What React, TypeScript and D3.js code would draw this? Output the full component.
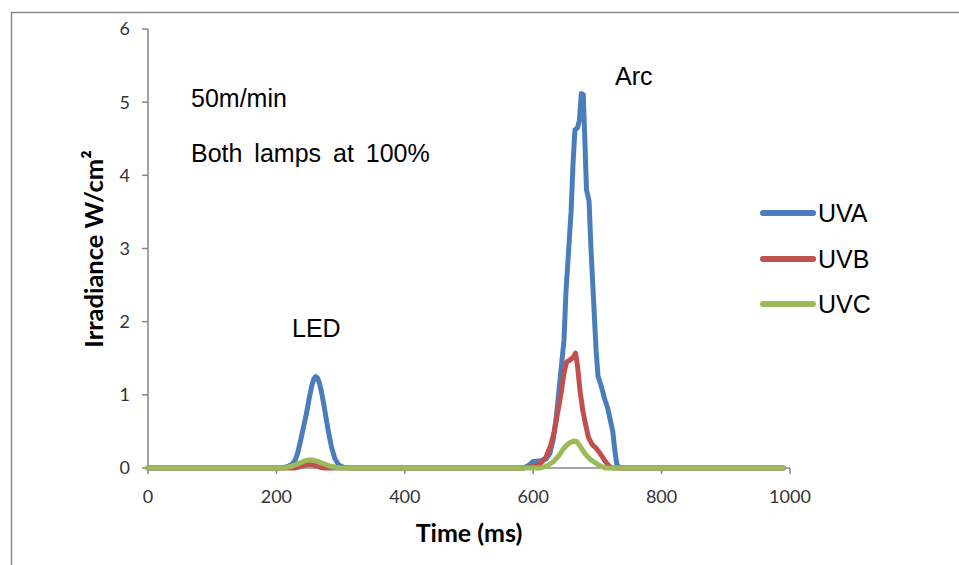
import React from "react";
import * as d3 from "d3";

const xTicks = [0, 200, 400, 600, 800, 1000];
const yTicks = [0, 1, 2, 3, 4, 5, 6];

const uvaData: [number, number][] = [
  [0, 0], [200, 0], [210, 0.005], [218, 0.02], [224, 0.05], [229, 0.1], [233, 0.2], [237, 0.35],
  [242, 0.55], [247, 0.75], [251, 0.95], [255, 1.12], [258, 1.21], [261, 1.25], [264, 1.23],
  [267, 1.16], [270, 1.05], [274, 0.86], [278, 0.65], [282, 0.45], [286, 0.28], [291, 0.13],
  [297, 0.04], [305, 0.01], [315, 0],
  [585, 0], [592, 0.03], [600, 0.09], [612, 0.1], [620, 0.12], [626, 0.2], [631, 0.38], [636, 0.7],
  [640, 1.05], [644, 1.4], [648, 1.75], [651, 2.4], [655, 2.95], [659, 3.5], [662, 4.15], [665, 4.62],
  [669, 4.65], [672, 4.75], [675, 5.12], [678, 5.1], [680, 4.6], [683, 3.8], [687, 3.65], [690, 3.0],
  [694, 2.3], [698, 1.6], [701, 1.25], [706, 1.12], [711, 0.95], [716, 0.82], [720, 0.66], [724, 0.5],
  [727, 0.25], [730, 0.06], [734, 0], [990, 0],
];

const uvbData: [number, number][] = [
  [0, 0], [228, 0], [236, 0.015], [243, 0.035], [250, 0.05], [256, 0.045], [263, 0.025], [270, 0.005],
  [275, 0], [580, 0], [595, 0.01], [610, 0.05], [620, 0.15], [627, 0.3], [633, 0.5], [638, 0.75],
  [643, 1.0], [648, 1.3], [652, 1.45], [658, 1.48], [663, 1.52], [666, 1.57], [669, 1.4], [673, 1.05],
  [677, 0.8], [681, 0.62], [686, 0.42], [692, 0.32], [698, 0.27], [704, 0.2], [710, 0.12], [715, 0.06],
  [720, 0.01], [725, 0], [990, 0],
];

const uvcData: [number, number][] = [
  [0, 0], [212, 0], [222, 0.02], [232, 0.05], [242, 0.09], [250, 0.11], [256, 0.11], [264, 0.09],
  [273, 0.06], [282, 0.03], [292, 0.01], [300, 0], [612, 0], [622, 0.03], [632, 0.09], [640, 0.17],
  [647, 0.26], [653, 0.32], [658, 0.35], [664, 0.37], [668, 0.36], [673, 0.3], [678, 0.23], [684, 0.16],
  [690, 0.11], [697, 0.07], [704, 0.03], [712, 0], [990, 0],
];

const seriesNames = ["UVA", "UVB", "UVC"];
const seriesColors = ["#4A7EBB", "#C0504D", "#9BBB59"];
const seriesData = [uvaData, uvbData, uvcData];

const annotations = [
  { text: "50m/min", x: 191, y: 107 },
  { text: "Both lamps at 100%", x: 191, y: 162 },
  { text: "Arc", x: 615, y: 85 },
  { text: "LED", x: 292, y: 337 },
];

export default function App() {
  const W = 959, H = 565;
  const x = d3.scaleLinear().domain([0, 1000]).range([148, 790]);
  const y = d3.scaleLinear().domain([0, 6]).range([468, 29]);
  const line = d3
    .line<[number, number]>()
    .x((d) => x(d[0]))
    .y((d) => y(d[1]));
  const axisColor = "#868686";
  const tickFont = "Lato, 'Open Sans', sans-serif";
  const labelFont = "'Liberation Sans', Arial, sans-serif";
  const legendY = [213, 259, 304];

  return (
    <svg width={W} height={H} style={{ position: "absolute", left: 0, top: 0, background: "#fff" }}>
      <rect x={11.5} y={12.5} width={1000} height={600} fill="#fff" stroke="#898989" strokeWidth={1.5} />
      {/* y axis */}
      <line x1={148} x2={148} y1={y(6)} y2={y(0)} stroke={axisColor} strokeWidth={1.5} />
      {yTicks.map((t) => (
        <g key={"y" + t}>
          <line x1={142} x2={148} y1={y(t)} y2={y(t)} stroke={axisColor} strokeWidth={1.5} />
          <text x={130} y={y(t)} dy="0.36em" textAnchor="end" fontFamily={tickFont} fontSize={18} fill="#333">
            {t}
          </text>
        </g>
      ))}
      {/* x axis */}
      <line x1={x(0)} x2={x(1000)} y1={y(0)} y2={y(0)} stroke={axisColor} strokeWidth={1.5} />
      {xTicks.map((t) => (
        <g key={"x" + t}>
          <line x1={x(t)} x2={x(t)} y1={y(0)} y2={y(0) + 6} stroke={axisColor} strokeWidth={1.5} />
          <text x={x(t)} y={503} textAnchor="middle" fontFamily={tickFont} fontSize={18} fill="#333">
            {t}
          </text>
        </g>
      ))}
      {/* series */}
      {seriesData.map((d, i) => (
        <path
          key={seriesNames[i]}
          d={line(d) || ""}
          fill="none"
          stroke={seriesColors[i]}
          strokeWidth={5}
          strokeLinejoin="round"
          strokeLinecap="round"
        />
      ))}
      {/* axis titles */}
      <text x={469} y={542} textAnchor="middle" fontFamily={tickFont} fontWeight="bold" fontSize={25} fill="#000">
        Time (ms)
      </text>
      <text
        transform="translate(103,249) rotate(-90)"
        textAnchor="middle"
        fontFamily={tickFont}
        fontWeight="bold"
        fontSize={25.5}
        fill="#000"
      >
        Irradiance W/cm²
      </text>
      {/* annotations */}
      {annotations.map((a) => (
        <text
          key={a.text}
          x={a.x}
          y={a.y}
          fontFamily={labelFont}
          fontSize={25}
          fill="#000"
          wordSpacing={a.text.includes(" ") ? 5 : 0}
        >
          {a.text}
        </text>
      ))}
      {/* legend */}
      {seriesNames.map((n, i) => (
        <g key={"lg" + n}>
          <line x1={763} x2={813} y1={legendY[i]} y2={legendY[i]} stroke={seriesColors[i]} strokeWidth={6} strokeLinecap="round" />
          <text x={818} y={legendY[i] + 9} fontFamily={labelFont} fontSize={25} fill="#000">
            {n}
          </text>
        </g>
      ))}
    </svg>
  );
}
